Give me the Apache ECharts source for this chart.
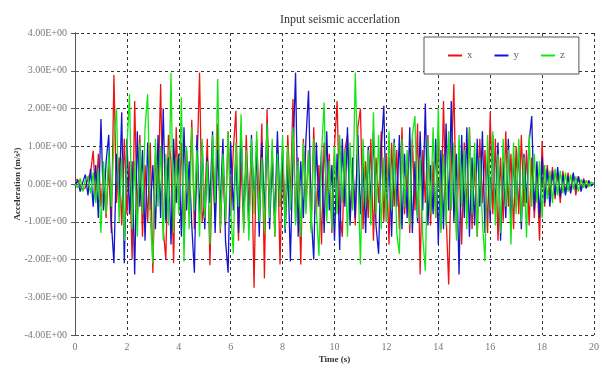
<!DOCTYPE html>
<html><head><meta charset="utf-8">
<script src="https://cdn.jsdelivr.net/npm/echarts@6/dist/echarts.min.js"></script>
<style>html,body{margin:0;padding:0;background:#fff}#c{width:602px;height:369px}</style>
</head><body><div id="c"></div>
<script>
const dt = 0.1; // sampling step (s)
const seriesNames = ['x', 'y', 'z'];
const xTicks = [0, 2, 4, 6, 8, 10, 12, 14, 16, 18, 20];
const yTicks = [-4, -3, -2, -1, 0, 1, 2, 3, 4];

const accX = [
 0.10, 0.12, -0.05, -0.15, -0.10, 0.15, 0.30, 0.88, -0.40, 0.80,
 -0.60, 0.40, -0.90, 0.50, -1.30, 2.89, -0.50, 0.70, -1.10, 1.20,
 -0.80, 0.60, -2.00, 2.20, -0.90, 1.30, -1.40, 0.50, -1.00, 1.10,
 -2.36, 0.80, -0.40, 2.65, -1.20, -2.00, 1.30, 0.60, -2.10, 1.50,
 -0.70, 1.10, -1.50, 0.90, -0.60, 1.70, -1.20, 0.40, 2.95, -1.00,
 -0.50, 1.20, -2.15, 0.70, -0.90, 1.60, -1.30, 0.50, -1.10, 1.40,
 -0.80, 0.90, 1.94, -1.50, 0.60, -1.20, 1.30, -0.60, 0.80, -2.75,
 1.20, -0.50, 1.60, -2.50, 1.98, -0.70, 0.90, -1.40, 1.10, -2.13,
 0.60, -0.90, 1.30, -0.40, 2.25, -1.00, 0.70, -2.13, 1.20, -0.60,
 0.90, -1.20, 1.50, -0.80, 0.50, -1.60, 1.10, -0.40, 0.80, -1.30,
 1.00, 2.20, -0.70, -1.40, 0.90, 1.30, -0.90, 0.40, -1.10, 1.50,
 2.00, -1.20, 0.60, -0.90, 1.20, -1.50, 0.70, -0.50, 1.40, -1.00,
 0.80, -1.60, 1.10, -0.60, 0.90, -1.20, 1.50, -0.80, 0.40, -1.30,
 1.20, -0.70, 1.60, -2.40, 0.90, -0.50, 1.30, -1.10, 0.60, -0.90,
 1.40, -1.20, 2.20, -0.80, -2.66, 0.50, 2.64, -1.30, 0.80, -1.60,
 1.10, -0.70, 1.50, -1.20, 0.60, -1.40, 1.20, -0.50, 0.90, -1.30,
 1.90, -0.80, 1.20, -1.50, 0.70, -1.00, 1.40, -0.60, 0.80, -1.20,
 1.00, -0.80, 1.30, -0.60, 0.90, -1.10, 0.70, -0.90, 0.40, -1.50,
 1.14, -0.60, 0.50, -0.30, 0.45, -0.40, 0.30, -0.50, 0.35, -0.25,
 0.30, -0.20, 0.25, -0.30, 0.20, -0.15, 0.15, -0.10, 0.10, -0.05, 0.02
];
const accY = [
 -0.05, 0.10, -0.20, 0.05, 0.25, -0.30, 0.40, -0.60, 0.50, -0.90,
 1.72, -0.70, 0.60, 1.30, -1.00, -2.10, 0.80, -0.50, 1.90, -2.10,
 1.20, -0.80, 0.60, -2.40, 1.40, -0.60, 0.90, -1.50, 1.10, -0.70,
 0.50, -1.20, 1.30, -0.90, 2.00, -1.00, 0.70, -1.60, 1.20, -0.50,
 0.80, -1.40, 1.50, -0.70, 0.60, -1.10, -2.35, 1.30, -0.80, 1.10,
 -1.20, 0.70, -0.50, 1.40, -1.30, 0.90, -0.60, 1.20, -1.50, -2.35,
 1.10, -0.70, 0.80, -1.30, 1.50, -0.90, 0.60, -1.20, 1.30, -0.50,
 0.90, -1.40, 1.10, -0.80, 1.60, -1.20, 0.70, -1.00, 1.40, -0.60,
 1.00, -1.30, 0.50, -2.05, 0.80, 2.95, -1.40, 0.60, -0.90, 1.20,
 2.47, -0.80, -2.00, 1.10, -0.60, 0.90, -1.30, 1.40, -0.70, 0.50,
 -1.50, 0.80, -1.75, 1.20, -0.60, 1.50, -1.10, 0.70, -0.90, 1.30,
 -0.80, 0.60, -1.30, 1.00, -0.50, 1.40, -1.10, -1.85, 0.90, 2.07,
 -1.00, 0.70, -1.40, 1.20, -0.60, 1.30, -1.20, 0.80, -0.90, 1.50,
 -1.30, 0.60, -1.00, 1.40, -0.70, 2.13, -1.10, 0.50, -0.80, 1.20,
 -1.60, 0.90, -1.20, 1.60, -0.70, 2.20, -1.00, 0.80, -2.40, 1.30,
 -0.90, 1.50, -1.40, 0.70, -1.10, 1.20, -0.60, 1.40, -1.30, 0.80,
 -1.00, 1.30, -0.70, 1.10, -1.50, 0.60, -0.90, 1.20, -1.10, 0.70,
 -0.60, 1.00, -1.20, 0.80, -0.50, 1.10, 1.80, -0.70, 0.60, -0.90,
 0.70, -0.50, 0.40, -0.60, 0.35, -0.30, 0.45, -0.35, 0.25, -0.30,
 0.20, -0.25, 0.30, -0.15, 0.20, -0.20, 0.10, -0.12, 0.08, -0.05, 0.03
];
const accZ = [
 0.00, -0.10, 0.15, -0.20, 0.10, 0.20, -0.25, 0.30, -0.50, 0.40,
 -1.30, 0.60, -0.80, 0.90, -0.60, 1.20, 2.00, -1.00, 0.70, -1.50,
 0.90, 2.38, -1.20, 0.60, -1.40, 1.10, -0.80, 1.50, 2.38, -0.90,
 -2.10, 1.20, -0.60, 1.00, -1.50, 0.80, -1.10, 2.95, -1.30, 0.70,
 -0.80, 2.29, -2.05, 1.00, -1.20, 1.50, -0.70, 0.90, -1.40, 1.20,
 -0.90, 0.60, -1.60, 1.30, -0.50, 2.78, -1.20, 0.80, -1.00, 1.40,
 -0.70, -1.85, 1.10, -0.60, 1.85, -1.30, 0.90, -1.50, 1.20, -0.80,
 1.40, -1.00, 0.70, -1.30, 1.60, -0.90, 1.20, -1.40, 0.80, -0.60,
 1.30, -1.20, 1.00, -0.70, 1.50, -1.10, 0.60, -1.40, 1.10, -0.80,
 0.90, -1.30, 1.20, -0.70, -1.90, 0.80, 2.16, -1.00, 0.60, -1.20,
 1.00, -0.80, 1.30, -0.50, 0.90, -1.40, 1.10, -0.70, 2.95, 0.40,
 -2.13, 1.20, -0.60, 0.90, -1.10, 1.90, -0.80, 1.30, -1.20, 0.70,
 -1.00, 1.40, -0.70, 1.10, -1.30, -1.85, 1.20, -0.60, 0.90, -1.10,
 1.30, 1.80, -0.90, 0.70, -1.40, -2.30, 1.20, -0.80, 1.50, -0.90,
 2.00, -1.30, 0.80, -1.10, 1.40, -0.70, 1.10, -1.50, 1.30, -0.60,
 0.90, -1.20, 1.50, -0.80, 1.10, -1.40, 0.70, -1.00, -2.05, 1.30,
 -0.70, 1.40, -1.10, 0.80, -1.30, 1.20, -0.60, 0.90, -1.60, 1.10,
 -0.80, 1.20, -1.00, 0.70, -1.42, 1.30, -0.60, 0.80, -0.50, 0.60,
 -0.90, 0.50, -0.40, 0.35, -0.50, 0.40, -0.30, 0.35, -0.25, 0.30,
 -0.20, 0.25, -0.15, 0.20, -0.20, 0.12, -0.10, 0.10, -0.08, 0.05, 0.00
];

const colors = ['#ee1111', '#1414cc', '#14e614'];
const serif = '"Liberation Serif", "DejaVu Serif", serif';

function pairs(arr) { return arr.map((v, i) => [+(i * dt).toFixed(2), v]); }
function fmtE(v) {
  if (v === 0) return '0.00E+00';
  const s = v.toExponential(2).split('e');
  const e = parseInt(s[1], 10);
  return s[0] + 'E' + (e < 0 ? '-' : '+') + String(Math.abs(e)).padStart(2, '0');
}

const chart = echarts.init(document.getElementById('c'), null, { renderer: 'canvas' });
const axisLineStyle = { lineStyle: { color: '#555', width: 1 } };
const split = { show: true, lineStyle: { color: '#333', type: [3, 3], width: 1 } };
chart.setOption({
  animation: false,
  backgroundColor: '#fff',
  title: {
    text: 'Input seismic accerlation', left: 335, textAlign: 'center', top: 9,
    textStyle: { fontFamily: serif, fontSize: 12, fontWeight: 'normal', color: '#333' }
  },
  legend: {
    data: seriesNames, left: 424, top: 37,
    padding: [13, 14, 13, 24], itemGap: 22, itemWidth: 14, itemHeight: 2, icon: 'rect',
    backgroundColor: '#fff', borderColor: '#555', borderWidth: 1,
    textStyle: { fontFamily: serif, fontSize: 11, color: '#666' }
  },
  grid: { left: 75, right: 6, top: 33, bottom: 34, containLabel: false },
  xAxis: [{
    type: 'value', min: 0, max: 20, interval: 2,
    name: 'Time (s)', nameLocation: 'middle', nameGap: 20, nameMoveOverlap: false,
    nameTextStyle: { fontFamily: serif, fontSize: 9, fontWeight: 'bold', color: '#333' },
    axisLine: axisLineStyle, axisTick: { inside: true, length: 4, lineStyle: { color: '#555' } },
    axisLabel: { fontFamily: serif, fontSize: 10, color: '#777', margin: 7,
      customValues: xTicks, formatter: v => String(v) },
    splitLine: split
  }, {
    type: 'value', position: 'top', min: 0, max: 20, interval: 2,
    axisLine: axisLineStyle, axisTick: { inside: true, length: 4, lineStyle: { color: '#555' } },
    axisLabel: { show: false }, splitLine: { show: false }
  }],
  yAxis: [{
    type: 'value', min: -4, max: 4, interval: 1,
    name: 'Acceleration (m/s²)', nameLocation: 'middle', nameGap: 53, nameRotate: 90,
    nameMoveOverlap: false,
    nameTextStyle: { fontFamily: serif, fontSize: 9, fontWeight: 'bold', color: '#333' },
    axisLine: { show: true, lineStyle: { color: '#555', width: 1 } },
    axisTick: { show: true, inside: true, length: 4, lineStyle: { color: '#555' } },
    axisLabel: { fontFamily: serif, fontSize: 10, color: '#777', margin: 8,
      customValues: yTicks, formatter: v => fmtE(v) },
    splitLine: split
  }, {
    type: 'value', position: 'right', min: -4, max: 4, interval: 1,
    axisLine: { show: true, lineStyle: { color: '#555', width: 1 } },
    axisTick: { show: true, inside: true, length: 4, lineStyle: { color: '#555' } },
    axisLabel: { show: false }, splitLine: { show: false }
  }],
  series: [accX, accY, accZ].map((arr, k) => ({
    name: seriesNames[k], type: 'line', data: pairs(arr), showSymbol: false, symbol: 'none',
    xAxisIndex: 0, yAxisIndex: 0,
    lineStyle: { color: colors[k], width: 1.3 }, itemStyle: { color: colors[k] }, z: 2 + k
  }))
});
</script></body></html>
